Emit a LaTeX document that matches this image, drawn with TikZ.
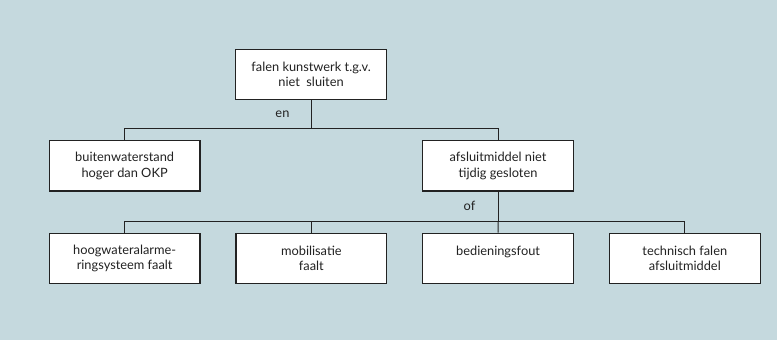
\documentclass[tikz,border=0pt]{standalone}
\usepackage{fontspec}
\setmainfont{Lato}
\usetikzlibrary{positioning}

\definecolor{panel}{RGB}{197,217,222}
\definecolor{ink}{RGB}{34,34,34}

\begin{document}
\begin{tikzpicture}[
            x = 1bp, y = -1bp, % one unit per pixel, y runs down
            node distance = 185.75bp, % distance between box centres
            line width = 1bp, % line style
            ink
        ]

        \tikzset{
            event/.style = {
                draw = ink,
                line width = 1.2bp,
                fill = white,
                text = ink,
                minimum width = 150bp,
                minimum height = 50bp,
                align = center,
                font = \fontsize{12.8}{15.5}\selectfont
            },
            gate/.style = {
                text = ink,
                font = \fontsize{12.8}{15.5}\selectfont
            }
        }

        % background panel
        \fill[panel] (4,2) rectangle (777,340);

        \node[event] (top) at (313.5,76) {falen kunstwerk t.g.v.\\niet\enspace sluiten};
        \node[event] (wl) at (128,167) {buitenwaterstand\\hoger dan OKP};
        \node[event] (am) [right of=wl, node distance=371.5bp] {afsluitmiddel niet\\tijdig gesloten};

        \node[event] (alarm) [below of=wl, node distance=92bp] {hoogwateralarme-\\ringsysteem faalt};
        \node[event] (mob) [right of=alarm] {mobilisatie\\faalt};
        \node[event] (bed) [right of=mob] {bedieningsfout\\\mbox{}};
        \node[event] (tech) [right of=bed] {technisch falen\\afsluitmiddel};

        % busbars
        \coordinate[below of=top, node distance=54bp] (bus1);
        \coordinate[below of=am, node distance=55bp] (bus2);

        \draw (top) -- (bus1);
        \draw (wl) |- (bus1) -| (am);
        \node[gate] (and) at (285,116) {en};

        \draw (am) -- (bus2);
        \draw (alarm) |- (bus2) -| (tech);
        \draw (mob) -- (mob |- bus2);
        \draw (bed) -- (bus2);
        \node[gate] (or) at (471,207) {of};

    \end{tikzpicture}
\end{document}
